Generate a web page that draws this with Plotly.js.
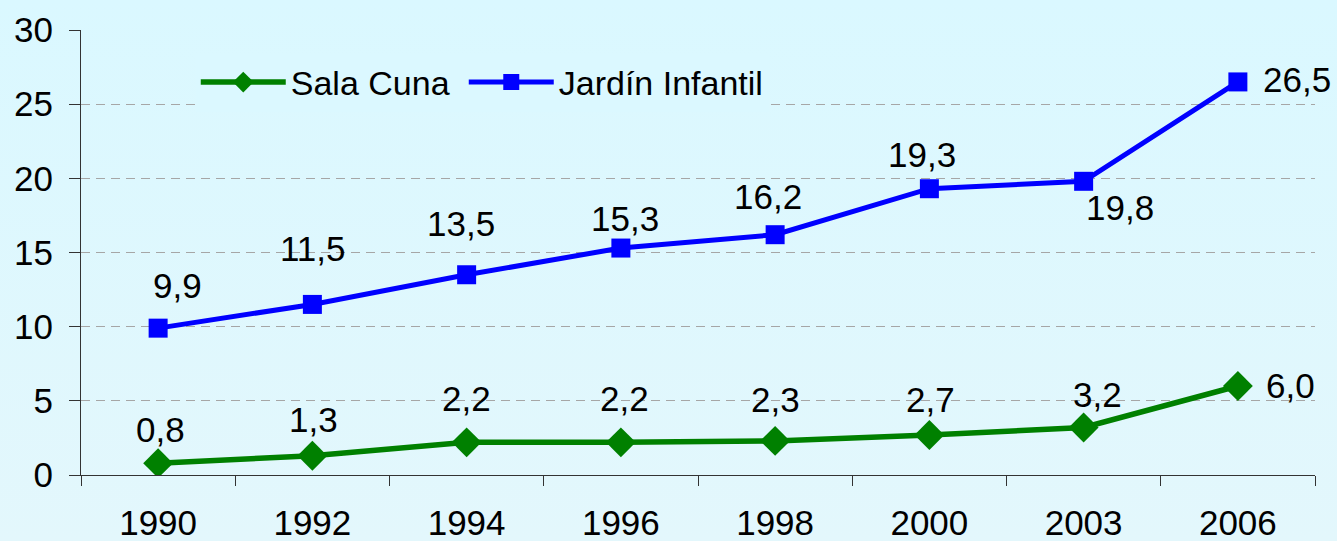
<!DOCTYPE html>
<html>
<head>
<meta charset="utf-8">
<script src="https://cdn.plot.ly/plotly-3.0.1.min.js"></script>
<style>
  html, body { margin: 0; padding: 0; background: linear-gradient(#daf8ff, #e3f7fc); }
  #chart { width: 1337px; height: 541px; }
</style>
</head>
<body>
<div id="chart"></div>
<script>
// ---- data ----
const years = ['1990', '1992', '1994', '1996', '1998', '2000', '2003', '2006'];
const salaCuna = [0.8, 1.3, 2.2, 2.2, 2.3, 2.7, 3.2, 6.0];
const jardinInfantil = [9.9, 11.5, 13.5, 15.3, 16.2, 19.3, 19.8, 26.5];
const yTicks = [0, 5, 10, 15, 20, 25, 30];

// label placement (pixel offsets from each point)
const salaShiftX = [2, 1, 0, 4, 0, 1, 14, 53];
const salaShiftY = [34, 36, 44, 44, 41, 35, 33, 1];
const jardinShiftX = [19, 1, -6, 4, -7, -7, 36, 59];
const jardinShiftY = [43, 56, 51, 30, 38, 34, -26, 2];

const fmt = v => v.toFixed(1).replace('.', ',');
const FONT = 'Liberation Sans, Arial, sans-serif';
const FS = 35;

const traces = [
  {
    x: years, y: salaCuna, name: 'Sala Cuna', type: 'scatter', mode: 'lines+markers',
    line: { color: '#008000', width: 5.5 },
    marker: { symbol: 'diamond', size: 23, color: '#008000' },
    legendwidth: 168
  },
  {
    x: years, y: jardinInfantil, name: 'Jardín Infantil', type: 'scatter', mode: 'lines+markers',
    line: { color: '#0000ff', width: 5 },
    marker: { symbol: 'square', size: 19, color: '#0000ff' }
  }
];

// category index of each year on the category axis
const annotations = [];
years.forEach((yr, i) => {
  const xi = years.indexOf(yr);
  annotations.push({ x: xi, y: salaCuna[i], text: fmt(salaCuna[i]), showarrow: false,
    xshift: salaShiftX[i], yshift: salaShiftY[i],
    font: { family: FONT, size: FS, color: '#000' } });
  annotations.push({ x: xi, y: jardinInfantil[i], text: fmt(jardinInfantil[i]), showarrow: false,
    xshift: jardinShiftX[i], yshift: jardinShiftY[i],
    font: { family: FONT, size: FS, color: '#000' } });
});

const layout = {
  width: 1337, height: 541,
  margin: { l: 81, r: 22, t: 30, b: 66 },
  paper_bgcolor: 'rgba(0,0,0,0)',
  plot_bgcolor: 'rgba(0,0,0,0)',
  font: { family: FONT, size: FS, color: '#000' },
  showlegend: true,
  legend: {
    orientation: 'h', x: 0.093, xanchor: 'left', y: 0.882, yanchor: 'middle',
    bgcolor: '#dbf8ff', font: { family: FONT, size: FS - 1, color: '#000' },
    itemwidth: 85, traceorder: 'normal'
  },
  xaxis: {
    type: 'category', range: [-0.5, 7.5], tickson: 'boundaries',
    ticks: 'outside', ticklen: 10, tickcolor: '#333', tickwidth: 1,
    showline: true, linecolor: '#333', linewidth: 1, showgrid: false, zeroline: false,
    tickfont: { family: FONT, size: FS, color: '#000' }, ticklabelstandoff: 17
  },
  yaxis: {
    range: [0, 30], tickvals: yTicks, ticktext: yTicks.map(String),
    ticks: 'outside', ticklen: 11, tickcolor: '#333', tickwidth: 1,
    showline: true, linecolor: '#333', linewidth: 1,
    showgrid: true, gridcolor: '#a6a6a6', gridwidth: 1, griddash: '9px,6px',
    zeroline: false, tickfont: { family: FONT, size: FS, color: '#000' },
    ticklabelstandoff: 9
  },
  annotations: annotations
};

Plotly.newPlot('chart', traces, layout, { displayModeBar: false, staticPlot: true });
</script>
</body>
</html>
